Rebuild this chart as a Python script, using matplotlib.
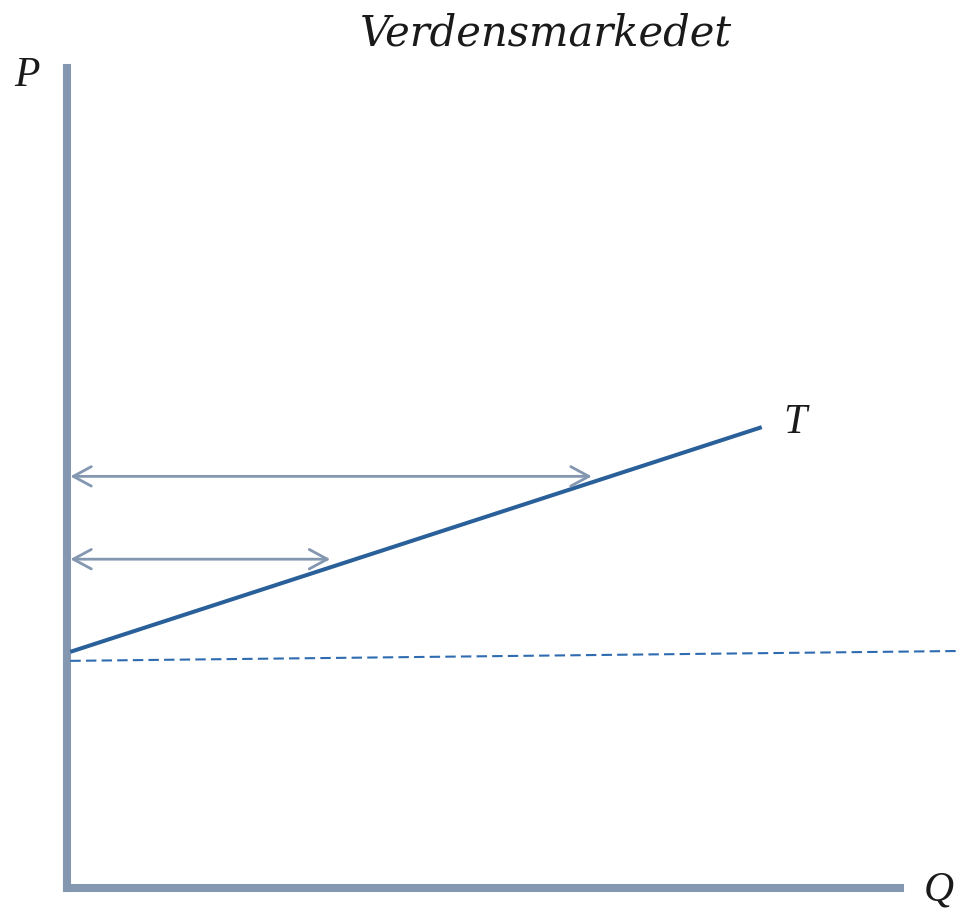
import matplotlib
matplotlib.use("Agg")
import matplotlib.pyplot as plt

# Data (economic units: Q and P on 0..100 scales)
axis_len_q = 100
axis_len_p = 100
T_q = [0.4, 83.4]
T_p = [28.8, 56.2]
world_q = [0.4, 106.7]
world_p = [27.7, 28.9]
arrow_p = [50.2, 40.1]
arrow_end_q = [63.0, 31.6]
title = "Verdensmarkedet"

axis_color = "#8497b0"
line_color = "#2a6099"
arrow_color = "#8497b0"
dash_color = "#2e6bb0"

fig = plt.figure(figsize=(9.56, 9.16), dpi=100)
ax = fig.add_axes([0, 0, 1, 1])
ax.set_xlim(-67 / 8.33, (956 - 67) / 8.33)
ax.set_ylim(-(916 - 888) / 8.2, 888 / 8.2)
ax.axis("off")

font = dict(family="Liberation Serif", style="italic", color="#1a1a1a")

# axes
ax.plot([0, 0], [0, axis_len_p], color=axis_color, lw=5.8, solid_capstyle="projecting")
ax.plot([0, axis_len_q], [0, 0], color=axis_color, lw=5.8, solid_capstyle="projecting")

# world price dashed
ax.plot(world_q, world_p, color=dash_color, lw=1.5, dashes=(5, 2.5), clip_on=False)

# T line
ax.plot(T_q, T_p, color=line_color, lw=2.9, solid_capstyle="butt")

# arrows
for p, qe in zip(arrow_p, arrow_end_q):
    ax.annotate("", xy=(qe, p), xytext=(0.4, p),
                arrowprops=dict(arrowstyle="<->,head_length=0.65,head_width=0.35",
                                color=arrow_color, lw=2.0, mutation_scale=20,
                                shrinkA=0, shrinkB=0))

ax.text(57.5, 102.8, title, fontsize=30, ha="center", va="baseline",
        family="DejaVu Serif", style="italic", color="#1a1a1a")
ax.text(-4.8, 97.8, "P", fontsize=30, ha="center", va="baseline", **font)
ax.text(106.4, -1.5, "Q", fontsize=30, ha="right", va="baseline", **font)
ax.text(87.4, 55.5, "T", fontsize=30, ha="center", va="baseline", **font)

fig.savefig("out.png", dpi=100)
